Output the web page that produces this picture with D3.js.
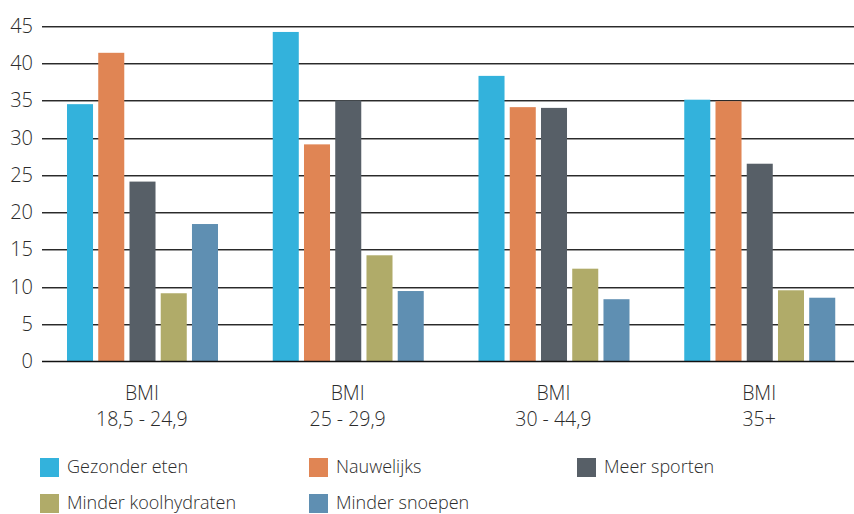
<!DOCTYPE html>
<html>
<head>
<meta charset="utf-8">
<script src="https://cdn.jsdelivr.net/npm/d3@7"></script>
<style>
  body { margin: 0; background: #fff; }
  text { font-family: "Open Sans", sans-serif; font-weight: 300; fill: #2b2b2b; }
</style>
</head>
<body>
<div id="chart"></div>
<script>
var groups = ["BMI|18,5 - 24,9", "BMI|25 - 29,9", "BMI|30 - 44,9", "BMI|35+"];
var series = ["Gezonder eten", "Nauwelijks", "Meer sporten", "Minder koolhydraten", "Minder snoepen"];
var colors = ["#33b2dc", "#e08554", "#575f67", "#b0ab69", "#5f8fb2"];
// waarden per reeks, één per BMI-groep
var gezonderEten = [34.5, 44.2, 38.3, 35.1];
var nauwelijks = [41.4, 29.1, 34.1, 34.9];
var meerSporten = [24.1, 35.0, 34.0, 26.5];
var minderKoolhydraten = [9.1, 14.2, 12.4, 9.5];
var minderSnoepen = [18.4, 9.4, 8.3, 8.5];
var yTicks = [0, 5, 10, 15, 20, 25, 30, 35, 40, 45];

var values = [gezonderEten, nauwelijks, meerSporten, minderKoolhydraten, minderSnoepen];

var width = 854, height = 514;
var svg = d3.select("#chart").append("svg")
    .attr("width", width)
    .attr("height", height);

var y = d3.scaleLinear().domain([0, 45]).range([361, 26]);
var x0 = d3.scaleBand().domain(groups).range([40, 863]);
var x1 = d3.scaleBand().domain(series).range([27, 178]).paddingInner(0.167);
var color = d3.scaleOrdinal().domain(series).range(colors);

// rasterlijnen
var grid = svg.append("g");
grid.selectAll("line.dark")
    .data(yTicks.filter(function (d) { return d > 0; }))
    .enter().append("line")
    .attr("x1", 42).attr("x2", width)
    .attr("y1", function (d) { return Math.round(y(d)) + 0.5; })
    .attr("y2", function (d) { return Math.round(y(d)) + 0.5; })
    .attr("stroke", "#2a2a2a").attr("stroke-width", 1);
grid.selectAll("line.light")
    .data(yTicks.filter(function (d) { return d > 0; }))
    .enter().append("line")
    .attr("x1", 42).attr("x2", width)
    .attr("y1", function (d) { return Math.round(y(d)) + 1.5; })
    .attr("y2", function (d) { return Math.round(y(d)) + 1.5; })
    .attr("stroke", "#9a9a9a").attr("stroke-width", 1);

// y-as labels
svg.append("g").selectAll("text")
    .data(yTicks)
    .enter().append("text")
    .attr("x", 33)
    .attr("y", function (d) { return y(d); })
    .attr("dy", "0.35em")
    .attr("text-anchor", "end")
    .style("font-size", "20px")
    .text(function (d) { return d; });

// staven
var gGroups = svg.append("g").selectAll("g")
    .data(groups)
    .enter().append("g")
    .attr("transform", function (d) { return "translate(" + x0(d) + ",0)"; });

gGroups.selectAll("rect")
    .data(function (g, gi) {
      return series.map(function (s, si) { return { s: s, v: values[si][gi] }; });
    })
    .enter().append("rect")
    .attr("x", function (d) { return x1(d.s); })
    .attr("width", x1.bandwidth())
    .attr("y", function (d) { return y(d.v); })
    .attr("height", function (d) { return y(0) - y(d.v); })
    .attr("fill", function (d) { return color(d.s); });

// nul-lijn
svg.append("line")
    .attr("x1", 42).attr("x2", width)
    .attr("y1", Math.round(y(0)) + 0.5).attr("y2", Math.round(y(0)) + 0.5)
    .attr("stroke", "#111").attr("stroke-width", 1.5);

// x-as labels
var xl = svg.append("g").selectAll("text")
    .data(groups)
    .enter().append("text")
    .attr("text-anchor", "middle")
    .style("font-size", "19.5px")
    .attr("transform", function (d) { return "translate(" + (x0(d) + x0.bandwidth() / 2 - 1) + ",0)"; });
xl.append("tspan").attr("x", 0).attr("y", 400).text(function (d) { return d.split("|")[0]; });
xl.append("tspan").attr("x", 0).attr("y", 426).text(function (d) { return d.split("|")[1]; });

// legenda
var legendPos = [[40, 467], [309, 467], [577, 467], [40, 503], [309, 503]];
var legend = svg.append("g").selectAll("g")
    .data(series)
    .enter().append("g")
    .attr("transform", function (d, i) { return "translate(" + legendPos[i][0] + "," + legendPos[i][1] + ")"; });
legend.append("rect")
    .attr("x", 0).attr("y", -9)
    .attr("width", 19).attr("height", 19)
    .attr("fill", function (d) { return color(d); });
legend.append("text")
    .attr("x", 27).attr("y", 0)
    .attr("dy", "0.35em")
    .style("font-size", "18px")
    .text(function (d) { return d; });
</script>
</body>
</html>
